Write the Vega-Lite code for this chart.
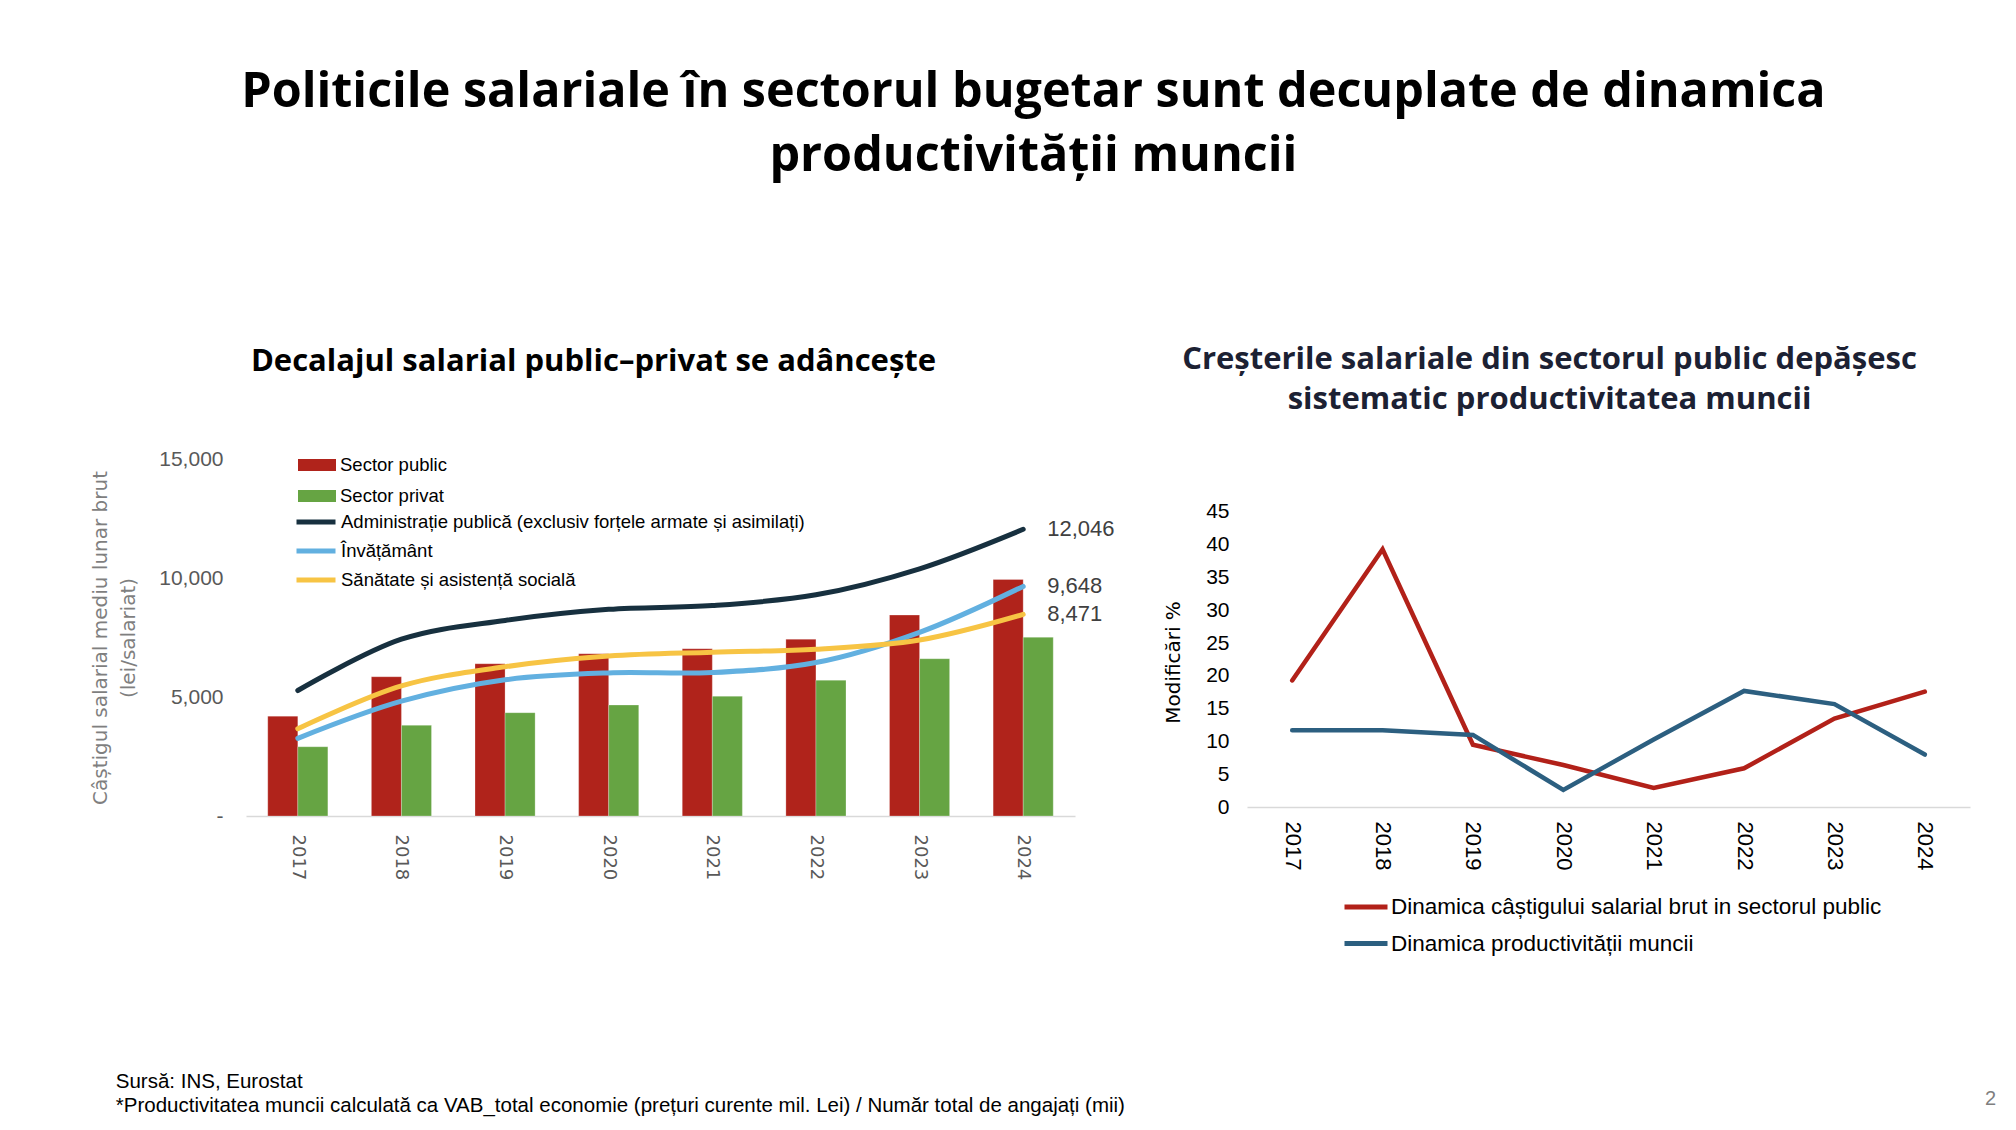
{
  "$schema": "https://vega.github.io/schema/vega-lite/v6.json",
  "background": "white",
  "padding": {"left": 90, "top": 67, "right": 10, "bottom": 5},
  "title": {
    "text": ["Politicile salariale în sectorul bugetar sunt decuplate de dinamica", "productivității muncii"],
    "font": "Open Sans", "fontSize": 48.5, "fontWeight": "bold", "color": "#000000",
    "lineHeight": 64, "anchor": "middle", "offset": 163, "dx": -10
  },
  "datasets": {
    "bare": [
      {"an": "2017", "sector": "Sector public", "valoare": 4196},
      {"an": "2017", "sector": "Sector privat", "valoare": 2910},
      {"an": "2018", "sector": "Sector public", "valoare": 5852},
      {"an": "2018", "sector": "Sector privat", "valoare": 3810},
      {"an": "2019", "sector": "Sector public", "valoare": 6399},
      {"an": "2019", "sector": "Sector privat", "valoare": 4341},
      {"an": "2020", "sector": "Sector public", "valoare": 6817},
      {"an": "2020", "sector": "Sector privat", "valoare": 4662},
      {"an": "2021", "sector": "Sector public", "valoare": 7026},
      {"an": "2021", "sector": "Sector privat", "valoare": 5032},
      {"an": "2022", "sector": "Sector public", "valoare": 7428},
      {"an": "2022", "sector": "Sector privat", "valoare": 5707},
      {"an": "2023", "sector": "Sector public", "valoare": 8441},
      {"an": "2023", "sector": "Sector privat", "valoare": 6608},
      {"an": "2024", "sector": "Sector public", "valoare": 9936},
      {"an": "2024", "sector": "Sector privat", "valoare": 7508}
    ],
    "linii": [
      {"an": "2017", "serie": "Administrație publică (exclusiv forțele armate și asimilați)", "valoare": 5273},
      {"an": "2018", "serie": "Administrație publică (exclusiv forțele armate și asimilați)", "valoare": 7428},
      {"an": "2019", "serie": "Administrație publică (exclusiv forțele armate și asimilați)", "valoare": 8215},
      {"an": "2020", "serie": "Administrație publică (exclusiv forțele armate și asimilați)", "valoare": 8682},
      {"an": "2021", "serie": "Administrație publică (exclusiv forțele armate și asimilați)", "valoare": 8842},
      {"an": "2022", "serie": "Administrație publică (exclusiv forțele armate și asimilați)", "valoare": 9293},
      {"an": "2023", "serie": "Administrație publică (exclusiv forțele armate și asimilați)", "valoare": 10386},
      {"an": "2024", "serie": "Administrație publică (exclusiv forțele armate și asimilați)", "valoare": 12046},
      {"an": "2017", "serie": "Învățământ", "valoare": 3264},
      {"an": "2018", "serie": "Învățământ", "valoare": 4823},
      {"an": "2019", "serie": "Învățământ", "valoare": 5723},
      {"an": "2020", "serie": "Învățământ", "valoare": 6013},
      {"an": "2021", "serie": "Învățământ", "valoare": 6029},
      {"an": "2022", "serie": "Învățământ", "valoare": 6447},
      {"an": "2023", "serie": "Învățământ", "valoare": 7717},
      {"an": "2024", "serie": "Învățământ", "valoare": 9648},
      {"an": "2017", "serie": "Sănătate și asistență socială", "valoare": 3666},
      {"an": "2018", "serie": "Sănătate și asistență socială", "valoare": 5466},
      {"an": "2019", "serie": "Sănătate și asistență socială", "valoare": 6270},
      {"an": "2020", "serie": "Sănătate și asistență socială", "valoare": 6720},
      {"an": "2021", "serie": "Sănătate și asistență socială", "valoare": 6881},
      {"an": "2022", "serie": "Sănătate și asistență socială", "valoare": 7010},
      {"an": "2023", "serie": "Sănătate și asistență socială", "valoare": 7395},
      {"an": "2024", "serie": "Sănătate și asistență socială", "valoare": 8471}
    ],
    "dinamica": [
      {"an": "2017", "serie": "Dinamica câștigului salarial brut in sectorul public", "valoare": 19.3},
      {"an": "2018", "serie": "Dinamica câștigului salarial brut in sectorul public", "valoare": 39.3},
      {"an": "2019", "serie": "Dinamica câștigului salarial brut in sectorul public", "valoare": 9.5},
      {"an": "2020", "serie": "Dinamica câștigului salarial brut in sectorul public", "valoare": 6.4},
      {"an": "2021", "serie": "Dinamica câștigului salarial brut in sectorul public", "valoare": 2.9},
      {"an": "2022", "serie": "Dinamica câștigului salarial brut in sectorul public", "valoare": 5.9},
      {"an": "2023", "serie": "Dinamica câștigului salarial brut in sectorul public", "valoare": 13.5},
      {"an": "2024", "serie": "Dinamica câștigului salarial brut in sectorul public", "valoare": 17.6},
      {"an": "2017", "serie": "Dinamica productivității muncii", "valoare": 11.7},
      {"an": "2018", "serie": "Dinamica productivității muncii", "valoare": 11.7},
      {"an": "2019", "serie": "Dinamica productivității muncii", "valoare": 11.0},
      {"an": "2020", "serie": "Dinamica productivității muncii", "valoare": 2.6},
      {"an": "2021", "serie": "Dinamica productivității muncii", "valoare": 10.3},
      {"an": "2022", "serie": "Dinamica productivității muncii", "valoare": 17.7},
      {"an": "2023", "serie": "Dinamica productivității muncii", "valoare": 15.7},
      {"an": "2024", "serie": "Dinamica productivității muncii", "valoare": 8.0}
    ]
  },
  "vconcat": [
    {
      "title": {
        "text": "2", "orient": "bottom", "anchor": "end", "font": "Liberation Sans",
        "fontSize": 20, "fontWeight": "normal", "color": "#7f7f7f", "offset": -28, "dx": 26
      },
      "vconcat": [
        {
          "title": {
            "text": ["Sursă: INS, Eurostat", "*Productivitatea muncii calculată ca VAB_total economie (prețuri curente mil. Lei) / Număr total de angajați (mii)"],
            "orient": "bottom", "anchor": "start", "font": "Liberation Sans", "fontSize": 20.5,
            "fontWeight": "normal", "color": "#000000", "lineHeight": 24, "offset": 117, "dx": 25
          },
          "spacing": 48,
          "resolve": {
            "scale": {"x": "independent", "y": "independent", "stroke": "independent", "fill": "independent"},
            "legend": {"stroke": "independent", "fill": "independent"}
          },
          "hconcat": [
            {
              "width": 829,
              "height": 357,
              "title": {
                "text": "Decalajul salarial public–privat se adâncește",
                "font": "Open Sans", "fontSize": 31, "fontWeight": "bold", "color": "#000000",
                "anchor": "middle", "dx": -67, "offset": 68
              },
              "layer": [
                {
                  "data": {"name": "bare"},
                  "mark": {"type": "bar", "stroke": "#ffffff", "strokeOpacity": 0.25, "strokeWidth": 1},
                  "encoding": {
                    "x": {
                      "field": "an", "type": "ordinal",
                      "scale": {"paddingInner": 0.42, "paddingOuter": 0.21},
                      "axis": {
                        "title": null, "labelAngle": 90, "labelFont": "DejaVu Sans", "labelFontSize": 18,
                        "labelColor": "#595959", "labelPadding": 18, "ticks": false,
                        "domainColor": "#d9d9d9", "domainWidth": 1.5
                      }
                    },
                    "xOffset": {
                      "field": "sector", "type": "nominal",
                      "scale": {"domain": ["Sector public", "Sector privat"], "paddingInner": 0}
                    },
                    "y": {
                      "field": "valoare", "type": "quantitative",
                      "scale": {"domain": [0, 15000], "nice": false},
                      "axis": {
                        "title": ["Câștigul salarial mediu lunar brut", "(lei/salariat)"],
                        "titleFont": "DejaVu Sans", "titleFontSize": 20, "titleFontWeight": "normal",
                        "titleColor": "#7f7f7f", "titlePadding": 20, "titleLineHeight": 28,
                        "values": [0, 5000, 10000, 15000],
                        "labelExpr": "datum.value === 0 ? '-' : format(datum.value, ',')",
                        "labelFont": "Liberation Sans", "labelFontSize": 21, "labelColor": "#595959",
                        "labelPadding": 23, "ticks": false, "domain": false, "grid": false
                      }
                    },
                    "fill": {
                      "field": "sector", "type": "nominal",
                      "scale": {"domain": ["Sector public", "Sector privat"], "range": ["#b0231b", "#66a443"]},
                      "legend": {
                        "title": null, "orient": "none", "legendX": 52, "legendY": -13,
                        "symbolType": "M-1,-0.32H1V0.32H-1Z", "symbolSize": 1444, "symbolStrokeWidth": 0,
                        "labelFont": "Liberation Sans", "labelFontSize": 18.5, "labelColor": "#000000",
                        "labelOffset": 4, "rowPadding": 2
                      }
                    }
                  }
                },
                {
                  "data": {"name": "linii"},
                  "mark": {"type": "line", "strokeWidth": 5, "interpolate": "catmull-rom", "strokeCap": "round"},
                  "encoding": {
                    "x": {"field": "an", "type": "ordinal"},
                    "y": {"field": "valoare", "type": "quantitative"},
                    "stroke": {
                      "field": "serie", "type": "nominal",
                      "scale": {
                        "domain": ["Administrație publică (exclusiv forțele armate și asimilați)", "Învățământ", "Sănătate și asistență socială"],
                        "range": ["#17303f", "#62b0e0", "#f7c444"]
                      },
                      "legend": {
                        "title": null, "orient": "none", "legendX": 48, "legendY": 52,
                        "symbolType": "stroke", "symbolSize": 1521, "symbolStrokeWidth": 5,
                        "clipHeight": 22,
                        "labelFont": "Liberation Sans", "labelFontSize": 18.5, "labelColor": "#000000",
                        "labelOffset": 3, "rowPadding": 7, "labelLimit": 600
                      }
                    }
                  }
                },
                {
                  "data": {"name": "linii"},
                  "transform": [{"filter": "datum.an === '2024'"}],
                  "mark": {
                    "type": "text", "align": "left", "baseline": "middle", "dx": 24,
                    "font": "Liberation Sans", "fontSize": 22, "color": "#404040"
                  },
                  "encoding": {
                    "x": {"field": "an", "type": "ordinal"},
                    "y": {"field": "valoare", "type": "quantitative"},
                    "text": {"field": "valoare", "type": "quantitative", "format": ",.0f"}
                  }
                }
              ]
            },
            {
              "width": 723,
              "height": 348,
              "title": {
                "text": ["Creșterile salariale din sectorul public depășesc", "sistematic productivitatea muncii"],
                "font": "Open Sans", "fontSize": 31, "fontWeight": "bold", "color": "#1c2133",
                "lineHeight": 40, "anchor": "middle", "dx": -59, "offset": 43
              },
              "data": {"name": "dinamica"},
              "mark": {"type": "line", "strokeWidth": 4.5, "strokeCap": "round"},
              "encoding": {
                "x": {
                  "field": "an", "type": "ordinal",
                  "axis": {
                    "title": null, "labelAngle": 90, "labelFont": "Liberation Sans", "labelFontSize": 22,
                    "labelColor": "#000000", "labelPadding": 14, "ticks": false,
                    "domainColor": "#d9d9d9", "domainWidth": 1.5
                  }
                },
                "y": {
                  "field": "valoare", "type": "quantitative",
                  "scale": {"domain": [0, 53.08], "nice": false},
                  "axis": {
                    "title": "Modificări %", "titleFont": "DejaVu Sans", "titleFontSize": 20,
                    "titleFontWeight": "normal", "titleColor": "#000000", "titlePadding": 22, "titleY": 203,
                    "values": [0, 5, 10, 15, 20, 25, 30, 35, 40, 45],
                    "labelFont": "Liberation Sans", "labelFontSize": 21, "labelColor": "#000000",
                    "labelPadding": 18, "ticks": false, "domain": false, "grid": false
                  }
                },
                "stroke": {
                  "field": "serie", "type": "nominal",
                  "scale": {
                    "domain": ["Dinamica câștigului salarial brut in sectorul public", "Dinamica productivității muncii"],
                    "range": ["#b22119", "#2c5f80"]
                  },
                  "legend": {
                    "title": null, "orient": "none", "legendX": 95, "legendY": 424,
                    "symbolType": "stroke", "symbolSize": 1849, "symbolStrokeWidth": 5,
                    "labelFont": "Liberation Sans", "labelFontSize": 22.5, "labelColor": "#000000",
                    "labelOffset": 1, "rowPadding": 0.5, "labelLimit": 700
                  }
                }
              }
            }
          ]
        }
      ]
    }
  ],
  "config": {
    "view": {"stroke": null}
  }
}
